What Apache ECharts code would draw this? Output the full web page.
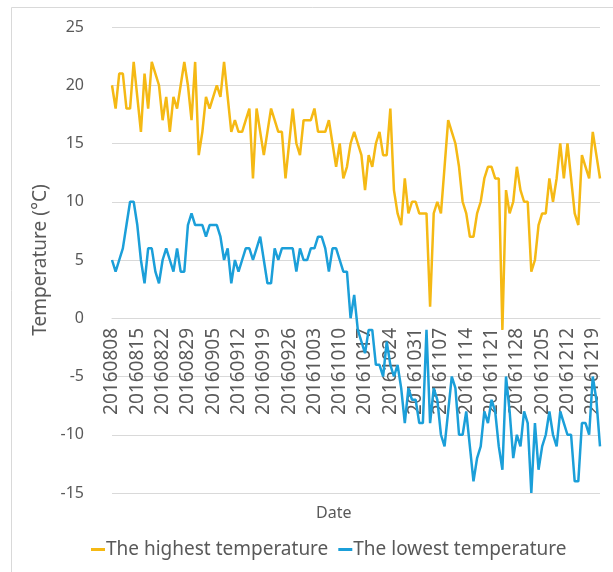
<!DOCTYPE html>
<html>
<head>
<meta charset="utf-8">
<script src="https://cdn.jsdelivr.net/npm/echarts@6/dist/echarts.min.js"></script>
<style>
html,body{margin:0;padding:0;background:#fff;}
#chart{width:613px;height:572px;}
</style>
</head>
<body>
<div id="chart"></div>
<script>
var dates = [
"20160808","20160809","20160810","20160811","20160812","20160813","20160814","20160815","20160816","20160817","20160818","20160819","20160820","20160821","20160822","20160823","20160824","20160825","20160826","20160827","20160828","20160829","20160830","20160831",
"20160901","20160902","20160903","20160904","20160905","20160906","20160907","20160908","20160909","20160910","20160911","20160912","20160913","20160914","20160915","20160916","20160917","20160918","20160919","20160920","20160921","20160922","20160923","20160924","20160925","20160926","20160927","20160928","20160929","20160930",
"20161001","20161002","20161003","20161004","20161005","20161006","20161007","20161008","20161009","20161010","20161011","20161012","20161013","20161014","20161015","20161016","20161017","20161018","20161019","20161020","20161021","20161022","20161023","20161024","20161025","20161026","20161027","20161028","20161029","20161030","20161031",
"20161101","20161102","20161103","20161104","20161105","20161106","20161107","20161108","20161109","20161110","20161111","20161112","20161113","20161114","20161115","20161116","20161117","20161118","20161119","20161120","20161121","20161122","20161123","20161124","20161125","20161126","20161127","20161128","20161129","20161130",
"20161201","20161202","20161203","20161204","20161205","20161206","20161207","20161208","20161209","20161210","20161211","20161212","20161213","20161214","20161215","20161216","20161217","20161218","20161219","20161220","20161221"
];
var highTemp = [
20,18,21,21,18,18,22,19,16,21,18,22,21,20,17,19,16,19,18,20,22,20,17,22,14,16,19,18,19,20,
19,22,19,16,17,16,16,17,18,12,18,16,14,16,18,17,16,16,12,15,18,15,14,17,17,17,18,16,16,16,
17,15,13,15,12,13,15,16,15,14,11,14,13,15,16,14,14,18,11,9,8,12,9,10,10,9,9,9,1,9,
10,9,13,17,16,15,13,10,9,7,7,9,10,12,13,13,12,12,-1,11,9,10,13,11,10,10,4,5,8,9,
9,12,10,12,15,12,15,12,9,8,14,13,12,16,14,12
];
var lowTemp = [
5,4,5,6,8,10,10,8,5,3,6,6,4,3,5,6,5,4,6,4,4,8,9,8,8,8,7,8,8,8,
7,5,6,3,5,4,5,6,6,5,6,7,5,3,3,6,5,6,6,6,6,4,6,5,5,6,6,7,7,6,
4,6,6,5,4,4,0,2,-1,-2,-3,-1,-1,-4,-4,-5,-2,-4,-5,-4,-6,-9,-6,-7,-7,-9,-9,-1,-9,-6,
-7,-10,-11,-8,-5,-6,-10,-10,-8,-11,-14,-12,-11,-8,-9,-7,-8,-11,-13,-5,-8,-12,-10,-11,-8,-9,-15,-9,-13,-11,
-10,-8,-10,-11,-8,-9,-10,-10,-14,-14,-9,-9,-10,-5,-7,-11
];
var seriesNames = ["The highest temperature", "The lowest temperature"];
var yTicks = {min: -15, max: 25, interval: 5};

var chart = echarts.init(document.getElementById('chart'), null, {renderer: 'canvas'});
var txt = '#595959';
var font = 'Noto Sans';
chart.setOption({
  animation: false,
  backgroundColor: '#ffffff',
  grid: {left: 112, right: 13, top: 27, bottom: 79, containLabel: false},
  xAxis: {
    type: 'category',
    data: dates,
    boundaryGap: false,
    position: 'bottom',
    offset: -175,
    axisLine: {onZero: false, lineStyle: {color: '#D9D9D9', width: 1}},
    axisTick: {show: false},
    axisLabel: {interval: 6, rotate: 90, color: txt, fontFamily: font, fontSize: 19, margin: 10},
    splitLine: {show: false}
  },
  yAxis: {
    type: 'value',
    min: yTicks.min, max: yTicks.max, interval: yTicks.interval,
    name: 'Temperature (°C)',
    nameLocation: 'middle',
    nameGap: 53,
    nameTextStyle: {color: txt, fontFamily: font, fontSize: 19},
    axisLine: {show: false},
    axisTick: {show: false},
    axisLabel: {color: txt, fontFamily: font, fontSize: 16, margin: 28},
    splitLine: {lineStyle: {color: '#D9D9D9', width: 1}}
  },
  legend: {
    left: 86, top: 535,
    itemWidth: 14, itemHeight: 3, itemGap: 10,
    icon: 'rect',
    textStyle: {color: txt, fontFamily: font, fontSize: 19, padding: [0,0,0,-4]},
    data: seriesNames
  },
  graphic: [
    {type: 'rect', shape: {x: 11.5, y: 7.5, width: 610, height: 570}, style: {fill: 'none', stroke: '#D9D9D9', lineWidth: 1}, silent: true, z: -1},
    {type: 'text', left: 316, top: 505, style: {text: 'Date', fill: txt, font: '16px "Noto Sans"'}}
  ],
  series: [
    {name: seriesNames[0], type: 'line', data: highTemp, showSymbol: false, symbol: 'none',
     lineStyle: {color: '#F5B914', width: 2.5}, itemStyle: {color: '#F5B914'}},
    {name: seriesNames[1], type: 'line', data: lowTemp, showSymbol: false, symbol: 'none',
     lineStyle: {color: '#1B9FD9', width: 2.5}, itemStyle: {color: '#1B9FD9'}}
  ]
});
</script>
</body>
</html>
